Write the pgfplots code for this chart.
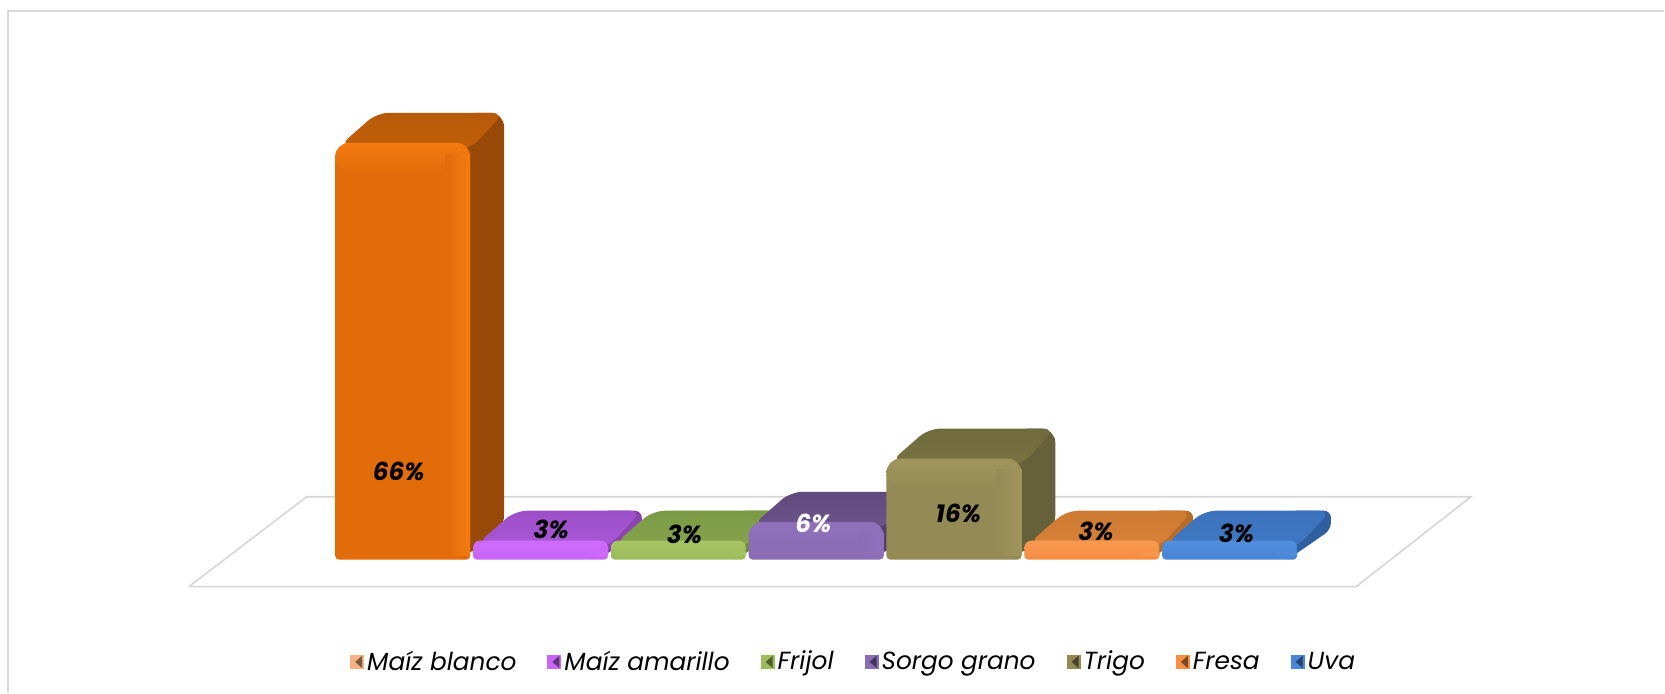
\documentclass[border=0pt]{standalone}
\usepackage{fontspec}
\setmainfont{Poppins}
\usepackage{pgfplots}
\pgfplotsset{compat=1.18}

% x = bar index, y = percent; 1 px = 0.5pt
\def\hw{0.49}\def\dx{0.245}\def\dy{4.75}
% #1 index, #2 value, #3 colour prefix, #4 corner radius
\newcommand{\bevelbar}[4]{%
  % side
  \addplot[forget plot, fill=#3s, draw=none, rounded corners=#4] coordinates {
    ({#1+\hw-0.05},{#2/2}) ({#1+\hw-0.05},0.3) ({#1+\hw+\dx},\dy) ({#1+\hw+\dx},{#2+\dy}) ({#1+\hw-0.05},{#2+\dy}) ({#1+\hw-0.05},{#2/2})};
  % top
  \addplot[forget plot, draw=none, top color=#3t, bottom color=#3t!70!#3f, rounded corners=6pt] coordinates {
    (#1,{#2-1}) ({#1+\hw},{#2-1}) ({#1+\hw+\dx},{#2+\dy}) ({#1-\hw+\dx+0.06},{#2+\dy}) ({#1-\hw+0.03},{#2-0.5}) (#1,{#2-1})};
  % front: foot with a small radius, shaded head with a large one
  \addplot[forget plot, fill=#3f, draw=none, rounded corners=2pt] coordinates {
    (#1,0) ({#1+\hw},0) ({#1+\hw},{max(#2-2.25,#2*0.63)}) ({#1-\hw},{max(#2-2.25,#2*0.63)}) ({#1-\hw},0) (#1,0)};
  \addplot[forget plot, draw=none, top color=#3b, bottom color=#3f, rounded corners=#4] coordinates {
    (#1,{max(#2-4.5,#2*0.25)}) ({#1+\hw},{max(#2-4.5,#2*0.25)}) ({#1+\hw},{#2}) ({#1-\hw},{#2}) ({#1-\hw},{max(#2-4.5,#2*0.25)}) (#1,{max(#2-4.5,#2*0.25)})};
  % right bevel
  \addplot[forget plot, draw=none, left color=#3f, right color=#3b] coordinates {
    ({#1+\hw-0.18},0.6) ({#1+\hw},0.6) ({#1+\hw},{#2-1.8}) ({#1+\hw-0.18},{#2-1.8}) ({#1+\hw-0.18},0.6)};
}

\definecolor{framec}{HTML}{D9D9D9}
\definecolor{floorc}{HTML}{D4D6D8}
% front, bevel, top, side
\definecolor{af}{HTML}{E36C0A}\definecolor{ab}{HTML}{F47B10}\definecolor{at}{HTML}{B65A08}\definecolor{as}{HTML}{984807}
\definecolor{bf}{HTML}{C966F7}\definecolor{bb}{HTML}{CE6CFF}\definecolor{bt}{HTML}{9C50C8}\definecolor{bs}{HTML}{8A45B0}
\definecolor{cf}{HTML}{9DBD5C}\definecolor{cb}{HTML}{A6C564}\definecolor{ct}{HTML}{7B9A45}\definecolor{cs}{HTML}{6E8A3C}
\definecolor{df}{HTML}{8A6DB5}\definecolor{db}{HTML}{9070BC}\definecolor{dt}{HTML}{604A7B}\definecolor{ds}{HTML}{54406E}
\definecolor{ef}{HTML}{948A55}\definecolor{eb}{HTML}{A0965C}\definecolor{et}{HTML}{6F6A3B}\definecolor{es}{HTML}{66613A}
\definecolor{ff}{HTML}{F58F45}\definecolor{fb}{HTML}{F99A50}\definecolor{ft}{HTML}{CC7A32}\definecolor{fs}{HTML}{B86C2A}
\definecolor{gf}{HTML}{4A86D6}\definecolor{gb}{HTML}{508EDE}\definecolor{gt}{HTML}{3C72BC}\definecolor{gs}{HTML}{2F5F9F}
\definecolor{mb}{HTML}{F4B183}

\begin{document}
\begin{tikzpicture}
\begin{axis}[
  scale only axis, width=832.5pt, height=346.5pt,
  hide axis, clip=false,
  xmin=-2.922, xmax=9.152, ymin=-21.04, ymax=88.6,
  legend style={at={(0.5133,0.0443)}, anchor=center, draw=none, fill=none,
    font=\itshape\fontsize{12.4}{14}\selectfont,
    /tikz/every even column/.append style={column sep=14pt},
    inner sep=0pt, nodes={inner sep=0pt, inner xsep=1.5pt}},
  legend columns=7,
  legend image code/.code={\fill[#1,draw=none] (0pt,-3.5pt) rectangle (7pt,3.5pt);
    \fill[black,opacity=.5,draw=none] (2.5pt,0pt) -- (6pt,3.1pt) -- (6pt,-3.1pt) -- cycle;},
  nodes near coords style={font=\bfseries\itshape\fontsize{12.4}{14}\selectfont, anchor=center, inner sep=0pt},
]
% keep the whole canvas in the bounding box
\addplot[forget plot, draw=none] coordinates {(-2.922,-21.04) (9.152,88.6)};
% frame
\addplot[forget plot, framec, line width=1pt] coordinates {(-2.864,-21.04) (-2.864,86.87) (9.152,86.87)};
% floor
\addplot[forget plot, floorc, line width=0.8pt, fill=white] coordinates {
  (-1.552,-4.27) (6.918,-4.27) (7.752,9.97) (-0.696,9.97) (-1.552,-4.27)};

\bevelbar{0}{66}{a}{7pt}
\bevelbar{1}{3}{b}{3.5pt}
\bevelbar{2}{3}{c}{3.5pt}
\bevelbar{3}{6}{d}{7pt}
\bevelbar{4}{16}{e}{7pt}
\bevelbar{5}{3}{f}{3.5pt}
\bevelbar{6}{3}{g}{3.5pt}

% percent labels
\addplot[forget plot, only marks, mark=none, point meta=explicit symbolic, nodes near coords, black]
  coordinates {(-0.029,13.9)[66\%] (1.078,4.75)[3\%] (2.045,3.96)[3\%] (4.032,7.3)[16\%] (5.03,4.43)[3\%] (6.05,4.11)[3\%]};
\addplot[forget plot, only marks, mark=none, point meta=explicit symbolic,
  nodes near coords, nodes near coords style={text=white}]
  coordinates {(2.98,5.8)[6\%]};

% legend
\addlegendimage{fill=mb}\addlegendentry{Maíz blanco}
\addlegendimage{fill=bf}\addlegendentry{Maíz amarillo}
\addlegendimage{fill=cf}\addlegendentry{Frijol}
\addlegendimage{fill=df}\addlegendentry{Sorgo grano}
\addlegendimage{fill=ef}\addlegendentry{Trigo}
\addlegendimage{fill=ff}\addlegendentry{Fresa}
\addlegendimage{fill=gf}\addlegendentry{Uva}
\end{axis}
\end{tikzpicture}
\end{document}
